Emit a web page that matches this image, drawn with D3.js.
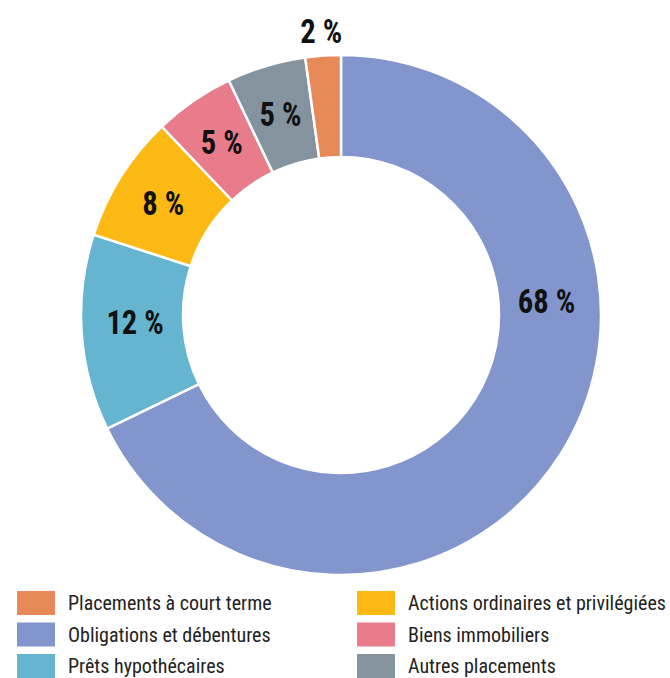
<!DOCTYPE html>
<html><head><meta charset="utf-8">
<script src="https://cdn.jsdelivr.net/npm/d3@7"></script>
<style>
body{margin:0;background:#fff;}
text{font-family:"Roboto Condensed","Liberation Sans Narrow","DejaVu Sans Condensed",sans-serif;font-stretch:condensed;}
</style></head>
<body><svg id="c" width="670" height="678"></svg>
<script>
const categories = ["Obligations et débentures","Prêts hypothécaires","Actions ordinaires et privilégiées","Biens immobiliers","Autres placements","Placements à court terme"];
const values = [67.8, 12.2, 7.9, 5.0, 4.9, 2.2];
const labels = ["68 %","12 %","8 %","5 %","5 %","2 %"];
const colors = ["#8295CC","#65B5D1","#FDB913","#E87C8A","#85939E","#E8895A"];
const legendOrder = ["Placements à court terme","Actions ordinaires et privilégiées","Obligations et débentures","Biens immobiliers","Prêts hypothécaires","Autres placements"];

const svg = d3.select("#c");
const cx = 341, cy = 315, R = 260, r = 158;
const g = svg.append("g").attr("transform",`translate(${cx},${cy})`);
const pie = d3.pie().sort(null).value(d=>d)(values);
const arc = d3.arc().innerRadius(r).outerRadius(R);
const color = d3.scaleOrdinal().domain(categories).range(colors);

g.selectAll("path").data(pie).join("path")
  .attr("d",arc)
  .attr("fill",(d,i)=>color(categories[i]))
  .attr("stroke","#fff").attr("stroke-width",2.5);

g.selectAll("text.lbl").data(pie).join("text")
  .attr("class","lbl")
  .attr("transform",(d,i)=>{
    let a = (d.startAngle+d.endAngle)/2, rr = 210;
    if(i===0){ a = Math.PI*0.478; rr = 206; }
    if(i===1){ a = Math.PI*2*268/360; rr = 206; }
    if(i===pie.length-1){ rr = 285; }
    return `translate(${Math.sin(a)*rr},${-Math.cos(a)*rr}) scale(0.9,1)`;
  })
  .attr("text-anchor","middle").attr("dy","0.36em")
  .attr("font-size",34).attr("font-weight","bold").attr("fill","#111")
  .text((d,i)=>labels[i]);

const lg = svg.append("g");
legendOrder.forEach((name,k)=>{
  const col = k%2, row = Math.floor(k/2);
  const x = col===0 ? 17 : 357, y = 591 + row*31.5;
  lg.append("rect").attr("x",x).attr("y",y).attr("width",38).attr("height",24).attr("fill",color(name));
  lg.append("text").attr("x",x+51).attr("y",y+12).attr("dy","0.36em")
    .attr("font-size",20).attr("fill","#222").text(name);
});
</script></body></html>
